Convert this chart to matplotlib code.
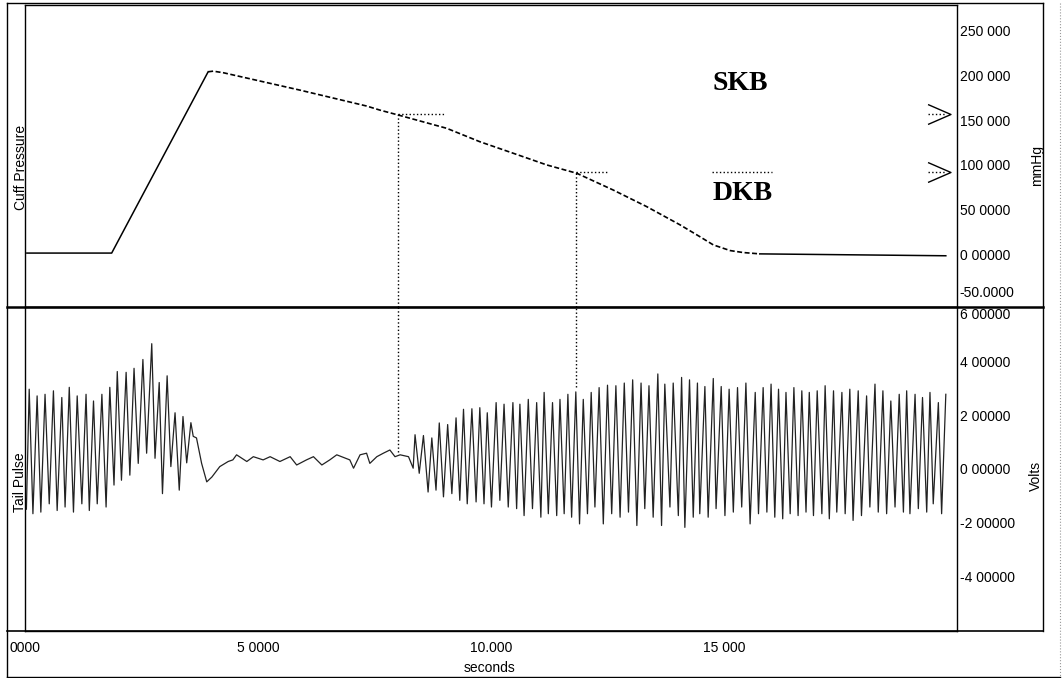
import numpy as np
import matplotlib
matplotlib.use("Agg")
import matplotlib.pyplot as plt
from matplotlib.lines import Line2D
from matplotlib.path import Path

#   Cuff pressure trace (seconds, mmHg)
press_t = [0.04, 1.86, 3.93, 4.04, 4.26, 5.90, 7.33, 7.62, 8.01, 9.05, 9.76, 10.48,
           11.20, 11.84, 12.62, 13.34, 14.06, 14.48, 14.77, 15.13, 15.41, 15.77, 19.76]
press_p = [2.0, 2.0, 203.7, 204.4, 202.6, 183.3, 165.6, 161.0, 155.6, 140.8, 125.9, 113.0,
           100.0, 90.8, 72.2, 53.7, 33.3, 20.3, 11.1, 4.8, 2.6, 1.1, -1.0]

#   Tail pulse: peaks, troughs and the quiet part while the cuff is closed (seconds, volts)
peak_t = [0.09, 0.26, 0.43, 0.61, 0.79, 0.95, 1.12, 1.31, 1.47, 1.65, 1.82, 1.98, 2.17, 2.34,
          2.53, 2.72, 2.88, 3.05, 3.22, 3.39, 3.56,
          8.37, 8.55, 8.73, 8.89, 9.07, 9.25, 9.41, 9.59, 9.76, 9.92, 10.11, 10.28, 10.47,
          10.62, 10.80, 10.98, 11.14, 11.32, 11.48, 11.65, 11.82, 11.98,
          12.15, 12.32, 12.50, 12.68, 12.86, 13.04, 13.22, 13.39, 13.58, 13.73, 13.91, 14.09,
          14.26, 14.43, 14.59, 14.77, 14.94, 15.11, 15.29, 15.47, 15.67, 15.84,
          16.01, 16.17, 16.33, 16.50, 16.67, 16.83, 17.00, 17.17, 17.35, 17.53, 17.70, 17.88,
          18.06, 18.24, 18.41, 18.58, 18.76, 18.92, 19.10, 19.26, 19.42, 19.60, 19.76]
peak_v = [2.98, 2.73, 2.79, 2.92, 2.67, 3.05, 2.73, 2.79, 2.54, 2.79, 3.05, 3.64, 3.61, 3.76,
          4.09, 4.68, 3.23, 3.48, 2.10, 1.96, 1.73,
          1.28, 1.25, 1.16, 1.72, 1.66, 1.91, 2.23, 2.25, 2.29, 2.10, 2.48, 2.42, 2.48,
          2.42, 2.60, 2.48, 2.86, 2.48, 2.60, 2.79, 2.88, 2.60,
          2.86, 3.04, 3.13, 3.11, 3.21, 3.33, 3.21, 3.11, 3.55, 3.17, 3.21, 3.42,
          3.33, 3.21, 3.08, 3.38, 3.08, 2.98, 3.04, 3.21, 2.86, 3.04,
          3.17, 2.98, 2.86, 3.04, 2.92, 2.86, 2.92, 3.11, 2.92, 2.86, 2.98, 2.92,
          2.73, 3.17, 2.92, 2.54, 2.79, 2.92, 2.79, 2.67, 2.86, 2.48, 2.79]
trough_t = [0.03, 0.17, 0.34, 0.52, 0.69, 0.86, 1.04, 1.22, 1.38, 1.55, 1.74, 1.91, 2.07, 2.25,
            2.43, 2.61, 2.79, 2.95, 3.13, 3.31, 3.47,
            8.46, 8.65, 8.82, 8.98, 9.16, 9.33, 9.49, 9.68, 9.85, 10.01, 10.19, 10.37, 10.55,
            10.71, 10.89, 11.07, 11.23, 11.41, 11.57, 11.73, 11.90, 12.07,
            12.23, 12.41, 12.59, 12.77, 12.95, 13.13, 13.30, 13.48, 13.66, 13.84, 14.02, 14.16,
            14.34, 14.48, 14.66, 14.83, 15.02, 15.20, 15.38, 15.56, 15.74, 15.92,
            16.09, 16.26, 16.42, 16.59, 16.76, 16.92, 17.10, 17.26, 17.42, 17.60, 17.77, 17.95,
            18.13, 18.31, 18.49, 18.67, 18.85, 18.99, 19.17, 19.35, 19.49, 19.67]
trough_v = [-1.50, -1.67, -1.61, -1.30, -1.55, -1.42, -1.61, -1.30, -1.55, -1.30, -1.42, -0.60,
            -0.42, -0.23, 0.21, 0.59, 0.40, -0.92, 0.09, -0.79, 0.23,
            -0.16, -0.86, -0.79, -1.04, -0.92, -1.17, -1.30, -1.23, -1.30, -1.42, -1.17, -1.42,
            -1.48, -1.74, -1.48, -1.80, -1.67, -1.74, -1.67, -1.80, -2.05, -1.67,
            -1.42, -2.05, -1.67, -1.80, -1.61, -2.11, -1.48, -1.80, -2.11, -1.42, -1.74, -2.18,
            -1.80, -1.67, -1.80, -1.48, -1.74, -1.61, -1.42, -2.05, -1.67, -1.61,
            -1.80, -1.86, -1.67, -1.74, -1.61, -1.74, -1.67, -1.86, -1.61, -1.67, -1.92, -1.74,
            -1.42, -1.61, -1.67, -1.42, -1.61, -1.67, -1.48, -1.61, -1.30, -1.67]
rest_t = [3.61, 3.68, 3.79, 3.90, 4.01, 4.18, 4.36, 4.46, 4.54, 4.76, 4.90, 5.11, 5.26, 5.47,
          5.69, 5.83, 6.04, 6.19, 6.37, 6.54, 6.69, 6.97, 7.05, 7.19, 7.33, 7.40, 7.55, 7.69,
          7.83, 7.94, 8.05, 8.23, 8.33]
rest_v = [1.22, 1.16, 0.21, -0.48, -0.30, 0.09, 0.28, 0.34, 0.53, 0.28, 0.46, 0.34, 0.46, 0.28,
          0.46, 0.15, 0.34, 0.46, 0.15, 0.34, 0.53, 0.34, 0.03, 0.53, 0.59, 0.21, 0.46, 0.59,
          0.71, 0.46, 0.53, 0.46, 0.03]

#   SKB / DKB markers
skb_t, skb_p, skb_v = 8.00, 157.0, 0.65
dkb_t, dkb_p, dkb_v = 11.82, 92.0, 3.05

press_ticks = [-50, 0, 50, 100, 150, 200, 250]
press_labels = ["-50.0000", "0 00000", "50 0000", "100 000", "150 000", "200 000", "250 000"]
volt_ticks = [-4, -2, 0, 2, 4, 6]
volt_labels = ["-4 00000", "-2 00000", "0 00000", "2 00000", "4 00000", "6 00000"]
time_ticks = [0, 5, 10, 15]
time_labels = ["0000", "5 0000", "10.000", "15 000"]

W, H = 1063, 678
P_LIM = (-58, 278)
V_LIM = (-6.05, 6.05)
SANS = "Liberation Sans"


def Fig_Line(fig, x0, y0, x1, y1, lw=1.0, ls="-", color="black"):
    #   line in pixel coordinates of the figure (origin top left)
    fig.add_artist(Line2D([x0 / W, x1 / W], [1 - y0 / H, 1 - y1 / H],
                          transform=fig.transFigure, lw=lw, ls=ls, color=color))


def Style_Axis(ax, ticks, labels, lim):
    ax.set_ylim(*lim)
    ax.set_xlim(0, 20)
    ax.yaxis.tick_right()
    ax.set_yticks(ticks)
    ax.set_yticklabels(labels, fontname=SANS, fontsize=10)
    ax.tick_params(axis="both", length=0, pad=2)
    for s in ax.spines.values():
        s.set_linewidth(1.0)


def main():
    fig = plt.figure(figsize=(W / 100, H / 100), dpi=100)
    ax_top = fig.add_axes([25 / W, 1 - 307 / H, 932 / W, 302 / H])
    ax_bot = fig.add_axes([25 / W, 1 - 631 / H, 932 / W, 324 / H])

    #   Cuff pressure: solid rise, the slow deflation looks dashed on the print
    ax_top.plot(press_t[:3], press_p[:3], color="black", lw=1.1)
    ax_top.plot(press_t[2:22], press_p[2:22], color="black", lw=1.2, ls=(0, (3, 1.5)))
    ax_top.plot(press_t[21:], press_p[21:], color="black", lw=1.1)
    Style_Axis(ax_top, press_ticks, press_labels, P_LIM)
    ax_top.set_xticks([])
    lab = ax_top.get_yticklabels()
    lab[0].set_va("bottom")

    #   Tail pulse
    t = np.concatenate([peak_t, trough_t, rest_t])
    v = np.concatenate([peak_v, trough_v, rest_v])
    order = np.argsort(t)
    ax_bot.plot(t[order], v[order], color="#222222", lw=0.9)
    Style_Axis(ax_bot, volt_ticks, volt_labels, V_LIM)
    ax_bot.set_xticks(time_ticks)
    ax_bot.set_xticklabels(time_labels, fontname=SANS, fontsize=10)
    ax_bot.tick_params(axis="x", pad=7)
    lab = ax_bot.get_yticklabels()
    lab[-1].set_va("top")

    #   SKB / DKB dotted markers across both panels
    dot = dict(color="black", lw=1.0, ls=":")
    ax_top.vlines(skb_t, P_LIM[0], skb_p, **dot)
    ax_bot.vlines(skb_t, skb_v, V_LIM[1], **dot)
    ax_top.hlines(skb_p, skb_t, skb_t + 1.0, **dot)
    ax_top.vlines(dkb_t, P_LIM[0], dkb_p, **dot)
    ax_bot.vlines(dkb_t, dkb_v, V_LIM[1], **dot)
    ax_top.hlines(dkb_p, dkb_t, dkb_t + 0.7, **dot)
    ax_top.hlines(dkb_p, 14.74, 16.02, **dot)

    ax_top.text(14.76, 191, "SKB", fontname="Liberation Serif", fontweight="bold",
                fontsize=20, ha="left", va="center")
    ax_top.text(14.76, 68, "DKB", fontname="Liberation Serif", fontweight="bold",
                fontsize=20, ha="left", va="center")

    chevron = Path([(-1.15, 1), (1.15, 0), (-1.15, -1)], [Path.MOVETO, Path.LINETO, Path.LINETO])
    for p in [skb_p, dkb_p]:
        ax_top.hlines(p, 19.37, 19.74, **dot)
        ax_top.plot([19.62], [p], marker=chevron, ms=16.5, mfc="none", mec="black",
                    mew=1.0, ls="none", clip_on=False)

    #   Labels around the panels
    fig.text(21 / W, 1 - 167 / H, "Cuff Pressure", rotation=90, fontname=SANS, fontsize=10,
             ha="center", va="center")
    fig.text(20 / W, 1 - 482 / H, "Tail Pulse", rotation=90, fontname=SANS, fontsize=10,
             ha="center", va="center")
    fig.text(1037 / W, 1 - 166 / H, "mmHg", rotation=90, fontname=SANS, fontsize=10,
             ha="center", va="center")
    fig.text(1036 / W, 1 - 476 / H, "Volts", rotation=90, fontname=SANS, fontsize=10,
             ha="center", va="center")
    fig.text(490 / W, 1 - 668 / H, "seconds", fontname=SANS, fontsize=10,
             ha="center", va="center")

    #   Frame of the recorder window
    Fig_Line(fig, 7, 3, 7, 677)
    Fig_Line(fig, 7, 3, 1043, 3)
    Fig_Line(fig, 7, 307, 1043, 307, lw=1.8)
    Fig_Line(fig, 7, 631, 1043, 631, lw=1.2)
    Fig_Line(fig, 1043, 3, 1043, 631)
    Fig_Line(fig, 7, 677, 1060, 677)
    Fig_Line(fig, 1060, 3, 1060, 677, lw=0.8, ls=":", color="#999999")

    fig.savefig("out.png", dpi=100)


if __name__ == "__main__":
    main()
